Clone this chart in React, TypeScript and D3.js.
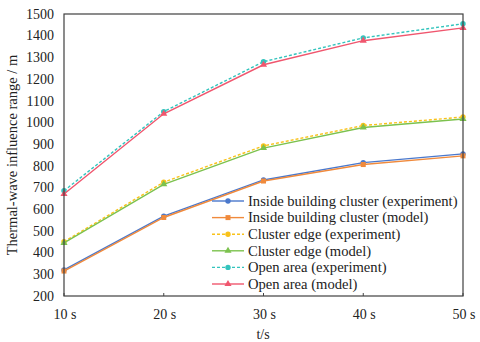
import React from "react";
import * as d3 from "d3";

const categories = ["10 s", "20 s", "30 s", "40 s", "50 s"];
const yTicks = [200, 300, 400, 500, 600, 700, 800, 900, 1000, 1100, 1200, 1300, 1400, 1500];

const insideExp = [320, 568, 735, 815, 855];
const insideModel = [315, 562, 730, 806, 846];
const edgeExp = [450, 725, 892, 986, 1025];
const edgeModel = [445, 715, 882, 977, 1016];
const openExp = [685, 1050, 1280, 1390, 1455];
const openModel = [670, 1040, 1266, 1377, 1436];

const seriesNames = [
  "Inside building cluster (experiment)",
  "Inside building cluster (model)",
  "Cluster edge (experiment)",
  "Cluster edge (model)",
  "Open area (experiment)",
  "Open area (model)",
];

const series = [
  { name: seriesNames[0], values: insideExp, color: "#4a78cc", dash: "", marker: "circle" },
  { name: seriesNames[1], values: insideModel, color: "#f08a3c", dash: "", marker: "square" },
  { name: seriesNames[2], values: edgeExp, color: "#f9c21a", dash: "3,2", marker: "circle" },
  { name: seriesNames[3], values: edgeModel, color: "#7cc24e", dash: "", marker: "triangle" },
  { name: seriesNames[4], values: openExp, color: "#33c4bd", dash: "3,2", marker: "circle" },
  { name: seriesNames[5], values: openModel, color: "#f0566e", dash: "", marker: "triangle" },
];

const W = 480, H = 342;
const L = 64, R = 463, T = 14, B = 296;

function Marker({ type, x, y, color }: { type: string; x: number; y: number; color: string }) {
  if (type === "square") return <rect x={x - 2.5} y={y - 2.5} width={5} height={5} fill={color} />;
  if (type === "triangle") {
    const p = d3.symbol(d3.symbolTriangle, 22)();
    return <path d={p || ""} transform={`translate(${x},${y})`} fill={color} />;
  }
  return <circle cx={x} cy={y} r={2.7} fill={color} />;
}

export default function App() {
  const x = d3.scalePoint<string>().domain(categories).range([L, R]);
  const y = d3.scaleLinear().domain([200, 1500]).range([B, T]);
  const line = d3
    .line<number>()
    .x((_, i) => x(categories[i]) as number)
    .y((d) => y(d));
  const font = "Liberation Serif";
  const legendX = 212, legendY0 = 201, legendDy = 16.6;
  return (
    <svg width={W} height={H} style={{ position: "absolute", left: 0, top: 0, fontFamily: font }}>
      <rect x={0} y={0} width={W} height={H} fill="#fff" />
      {yTicks.map((t) => (
        <text key={t} x={54} y={y(t) + 4.8} fontSize={14} textAnchor="end" fill="#222">
          {t}
        </text>
      ))}
      {categories.map((c) => (
        <g key={c}>
          <line x1={x(c)} x2={x(c)} y1={B} y2={B - 3} stroke="#444" />
          <text x={(x(c) as number) + 1} y={319} fontSize={14} textAnchor="middle" fill="#222">
            {c}
          </text>
        </g>
      ))}
      <text x={263} y={339} fontSize={14} textAnchor="middle" fill="#222">t/s</text>
      <text
        transform={`translate(17,${(T + B) / 2}) rotate(-90)`}
        fontSize={14.5}
        textAnchor="middle"
        fill="#222"
      >
        Thermal-wave influence range / m
      </text>
      {series.map((s) => (
        <g key={s.name}>
          <path d={line(s.values) || ""} fill="none" stroke={s.color} strokeWidth={1.4} strokeDasharray={s.dash} />
          {s.values.map((v, i) => (
            <Marker key={i} type={s.marker} x={x(categories[i]) as number} y={y(v)} color={s.color} />
          ))}
        </g>
      ))}
      <rect x={L} y={T} width={R - L} height={B - T} fill="none" stroke="#404040" strokeWidth={1.2} />
      {series.map((s, i) => {
        const ly = legendY0 + i * legendDy;
        return (
          <g key={s.name}>
            <line x1={legendX} x2={legendX + 32} y1={ly} y2={ly} stroke={s.color} strokeWidth={1.4} strokeDasharray={s.dash} />
            <Marker type={s.marker} x={legendX + 16} y={ly} color={s.color} />
            <text x={legendX + 36} y={ly + 4.8} fontSize={14.6} fill="#222">
              {s.name}
            </text>
          </g>
        );
      })}
    </svg>
  );
}
